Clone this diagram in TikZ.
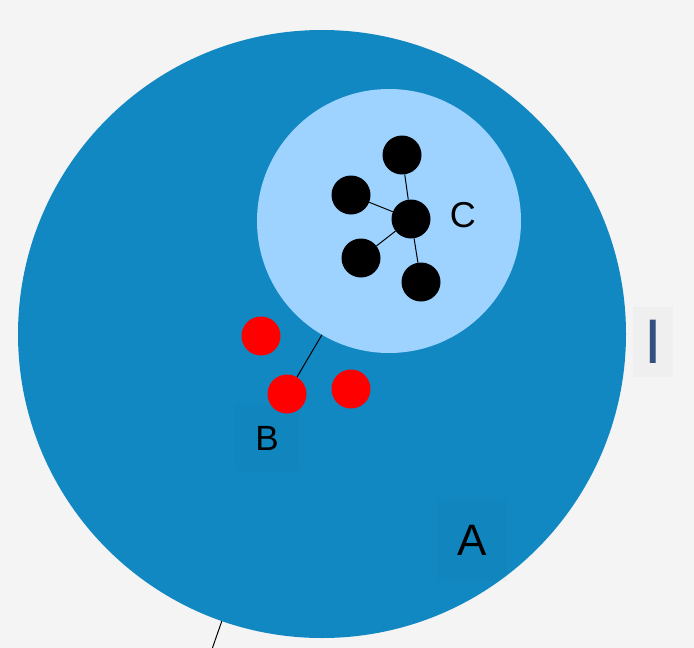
\documentclass[tikz,border=0pt]{standalone}
\usepackage{fontspec}
\setmainfont{Liberation Sans}
\usetikzlibrary{positioning}
\definecolor{paper}{HTML}{F4F4F4}
\definecolor{outer}{HTML}{1188C2}
\definecolor{inner}{HTML}{9DD3FE}
\definecolor{slate}{HTML}{34507D}

\begin{document}
\begin{tikzpicture}[x=1pt, y=-1pt,
  grp/.style={circle, inner sep=0pt},
  blk/.style={circle, fill=black, inner sep=0pt, minimum size=39pt},
  rd/.style={circle, fill=red, inner sep=0pt, minimum size=39pt},
  tag/.style={fill=black, fill opacity=0.02, text opacity=1, inner sep=0pt},
  lnk/.style={draw=black, line width=1pt}
]
  \clip (0,0) rectangle (694,648);
  \fill[paper] (0,0) rectangle (694,648);

  % Group A
  \node[grp, fill=outer, minimum size=608pt] (agrp) at (322,334) {};
  \coordinate (aout) at (203,675);
  \draw[lnk] (agrp) -- (aout);
  \node[tag, minimum width=70pt, minimum height=82pt,
        font=\fontsize{44}{48}\selectfont] (alab) at (472,540) {A};

  % Group C
  \node[grp, fill=inner, minimum size=264pt] (cgrp) at (389,221) {};
  \node[blk] (c0) at (411,219) {};
  \node[blk] (c1) at (402,155) {};
  \node[blk] (c2) at (351,195) {};
  \node[blk] (c3) at (361,258) {};
  \node[blk] (c4) at (421,282) {};
  \foreach \n in {c1,c2,c3,c4}
    \draw[lnk] (c0) -- (\n);
  \node[inner sep=0pt, right=19pt of c0, yshift=4pt,
        font=\fontsize{36}{40}\selectfont] (clab) {C};

  % Group B
  \node[tag, minimum width=64pt, minimum height=66pt,
        font=\fontsize{35}{40}\selectfont] (blab) at (267,438) {B};
  \node[rd] (b1) at (261,336) {};
  \node[rd] (b2) at (287,394) {};
  \node[rd] (b3) at (351,389) {};
  \draw[lnk] (b2) -- (cgrp);

  % Label I
  \node[tag, minimum width=40pt, minimum height=70pt, text=slate,
        font=\fontsize{63}{66}\selectfont] (ilab) at (653,342) {I};
\end{tikzpicture}
\end{document}
